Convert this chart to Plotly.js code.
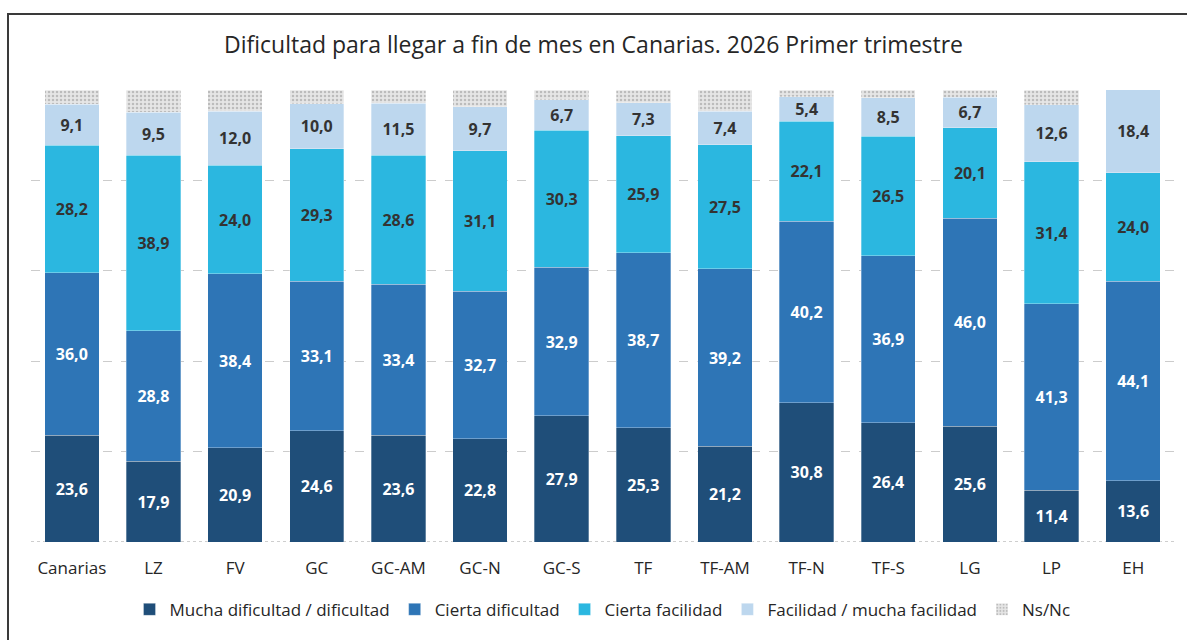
<!DOCTYPE html>
<html><head><meta charset="utf-8">
<script src="https://cdn.plot.ly/plotly-3.0.1.min.js"></script>
<style>
html,body{margin:0;padding:0;background:#fff;overflow:hidden}
#frame{position:absolute;left:7px;top:13px;width:1200px;height:700px;border:2px solid #3a3a3a;box-sizing:border-box}
#chart{position:absolute;left:0;top:0;width:1187px;height:640px}
</style></head>
<body>
<div id="frame"></div>
<div id="chart"></div>
<script>
const categories = ["Canarias","LZ","FV","GC","GC-AM","GC-N","GC-S","TF","TF-AM","TF-N","TF-S","LG","LP","EH"];
const muchaDificultad = [23.6,17.9,20.9,24.6,23.6,22.8,27.9,25.3,21.2,30.8,26.4,25.6,11.4,13.6];
const ciertaDificultad = [36.0,28.8,38.4,33.1,33.4,32.7,32.9,38.7,39.2,40.2,36.9,46.0,41.3,44.1];
const ciertaFacilidad = [28.2,38.9,24.0,29.3,28.6,31.1,30.3,25.9,27.5,22.1,26.5,20.1,31.4,24.0];
const facilidad = [9.1,9.5,12.0,10.0,11.5,9.7,6.7,7.3,7.4,5.4,8.5,6.7,12.6,18.4];
const nsnc = [3.1,4.9,4.7,3.0,2.9,3.7,2.2,2.8,4.7,1.5,1.7,1.6,3.3,0.0];
const seriesNames = ["Mucha dificultad / dificultad","Cierta dificultad","Cierta facilidad","Facilidad / mucha facilidad","Ns/Nc"];

const FONT = "Open Sans, Noto Sans, sans-serif";
function barTrace(name, vals, color, textColor, showText, pattern){
  const t = {
    type:"bar", name:name, x:categories, y:vals,
    marker:{color:color, line:{color:"rgba(255,255,255,0.6)", width:0.5}},
    textposition: showText ? "inside" : "none",
    insidetextanchor:"middle",
    texttemplate: showText ? "<b>%{y:.1f}</b>" : "",
    textfont:{family:FONT, size:16, color:textColor},
    constraintext:"none",
    hoverinfo:"name+y"
  };
  if(pattern){ t.marker.pattern = {shape:".", bgcolor:"#e6e6e6", fgcolor:"#bcbcbc", size:4, solidity:0.3}; t.marker.color="#e6e6e6"; }
  return t;
}
const data = [
  barTrace(seriesNames[0], muchaDificultad, "#1f4e79", "#ffffff", true),
  barTrace(seriesNames[1], ciertaDificultad, "#2e75b6", "#ffffff", true),
  barTrace(seriesNames[2], ciertaFacilidad, "#2bb7e0", "#333333", true),
  barTrace(seriesNames[3], facilidad, "#bdd7ee", "#333333", true),
  barTrace(seriesNames[4], nsnc, "#e6e6e6", "#333333", false, true)
];
const layout = {
  width:1187, height:640,
  paper_bgcolor:"rgba(0,0,0,0)", plot_bgcolor:"rgba(0,0,0,0)",
  separators:",.",
  barmode:"stack", bargap:0.333,
  margin:{l:31, r:13, t:90, b:96},
  title:{text:"Dificultad para llegar a fin de mes en Canarias. 2026 Primer trimestre", x:0.5, xanchor:"center", y:0.93, yanchor:"middle", font:{family:FONT, size:23, color:"#262626"}},
  xaxis:{type:"category", tickfont:{family:FONT, size:17, color:"#262626"}, showline:false, ticks:"", ticklabelstandoff:14, showgrid:false, zeroline:false},
  yaxis:{range:[0,100], dtick:20, showticklabels:false, showgrid:true, gridcolor:"#cccccc", griddash:"dash", gridwidth:1, zeroline:false, showline:false, ticks:""},
  shapes:[{type:"line", xref:"paper", yref:"y", x0:0, x1:1, y0:0, y1:0, line:{color:"#bfbfbf", width:1.5, dash:"dot"}, layer:"below"}],
  legend:{orientation:"h", x:0.5, xanchor:"center", y:-0.15, yanchor:"middle", traceorder:"normal", font:{family:FONT, size:17, color:"#262626"}, itemwidth:30, tracegroupgap:0},
  showlegend:true
};
Plotly.newPlot("chart", data, layout, {displayModeBar:false, staticPlot:true});
</script>
</body></html>
